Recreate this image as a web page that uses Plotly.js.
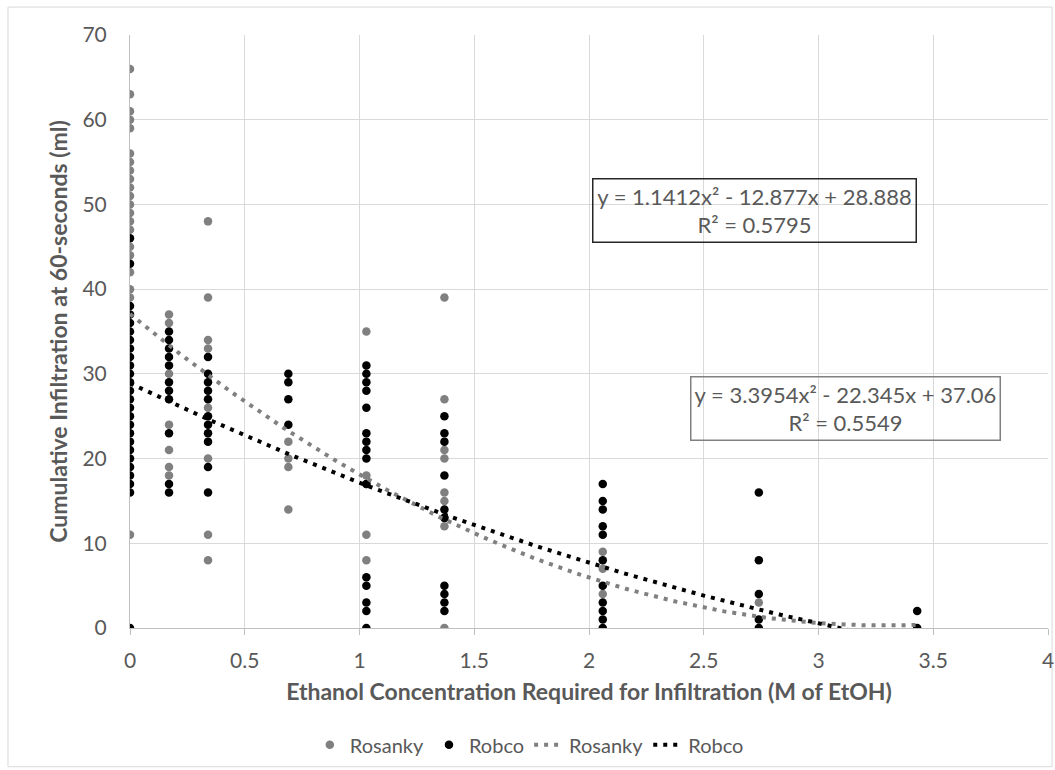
<!DOCTYPE html>
<html>
<head>
<meta charset="utf-8">
<script src="https://cdn.plot.ly/plotly-3.0.1.min.js"></script>
<style>html,body{margin:0;padding:0;background:#fff;}#chart{width:1055px;height:770px;}</style>
</head>
<body>
<div id="chart"></div>
<script>
// Ethanol concentration levels (M of EtOH)
const concentrations = [0, 0.17, 0.34, 0.69, 1.03, 1.37, 2.06, 2.74, 3.43];

// Cumulative infiltration at 60 s (ml), one list per concentration level
const rosankyValues = [
  [66, 63, 61, 60, 59, 56, 55, 54, 53, 52, 51, 50, 49, 48, 47, 45, 44, 42, 40, 39, 19, 11],
  [37, 36, 30, 24, 21, 19, 18],
  [48, 39, 34, 33, 26, 20, 11, 8],
  [22, 20, 19, 14],
  [35, 18, 17, 11, 8],
  [39, 27, 21, 20, 16, 15, 13, 12, 0],
  [9, 7, 4],
  [3],
  []
];
const robcoValues = [
  [46, 43, 38, 37, 36, 35, 34, 33, 32, 31, 30, 29, 28, 27, 26, 25, 24, 23, 22, 21, 20, 19, 18, 17, 16, 0],
  [35, 34, 33, 32, 31, 29, 28, 27, 23, 17, 16],
  [32, 30, 29, 28, 27, 25, 24, 23, 22, 19, 16],
  [30, 29, 27, 24],
  [31, 30, 29, 28, 26, 23, 22, 21, 20, 17, 6, 5, 3, 2, 0],
  [25, 23, 22, 18, 14, 13, 5, 4, 3, 2],
  [17, 15, 14, 12, 11, 8, 5, 3, 2, 1, 0],
  [16, 8, 4, 1, 0],
  [2, 0]
];

// Polynomial trendline coefficients shown on the chart [a, b, c] for a*x^2 + b*x + c
const rosankyTrend = [3.3954, -22.345, 37.06];
const robcoTrend = [1.1412, -12.877, 28.888];
const rosankyLabel = "y = 3.3954x² - 22.345x + 37.06<br>R² = 0.5549";
const robcoLabel = "y = 1.1412x² - 12.877x + 28.888<br>R² = 0.5795";

const xTickVals = [0, 0.5, 1, 1.5, 2, 2.5, 3, 3.5, 4];
const xTickText = ["0", "0.5", "1", "1.5", "2", "2.5", "3", "3.5", "4"];
const yTickVals = [0, 10, 20, 30, 40, 50, 60, 70];

function flatten(values) {
  const xs = [], ys = [];
  values.forEach((list, i) => list.forEach(v => { xs.push(concentrations[i]); ys.push(v); }));
  return {xs, ys};
}
function trendCurve(coef) {
  const xs = [], ys = [];
  const xmax = concentrations[concentrations.length - 1];
  for (let k = 0; k <= 200; k++) {
    const x = xmax * k / 200;
    xs.push(x);
    ys.push(coef[0] * x * x + coef[1] * x + coef[2]);
  }
  return {xs, ys};
}

const ros = flatten(rosankyValues);
const rob = flatten(robcoValues);
const rosT = trendCurve(rosankyTrend);
const robT = trendCurve(robcoTrend);

const GREY = '#808080';
const FONT = 'Lato, "Open Sans", sans-serif';
const TXT = '#595959';

const traces = [
  {x: ros.xs, y: ros.ys, mode: 'markers', type: 'scatter', name: 'Rosanky',
   marker: {color: GREY, size: 8.5}},
  {x: rob.xs, y: rob.ys, mode: 'markers', type: 'scatter', name: 'Robco',
   marker: {color: '#000000', size: 8.5}},
  {x: rosT.xs, y: rosT.ys, mode: 'lines', type: 'scatter', name: 'Rosanky',
   line: {color: GREY, width: 4, dash: '4px,6px'}},
  {x: robT.xs, y: robT.ys, mode: 'lines', type: 'scatter', name: 'Robco',
   line: {color: '#000000', width: 4, dash: '4px,6px'}}
];

const layout = {
  width: 1055, height: 770,
  margin: {l: 130, r: 7, t: 35, b: 141, pad: 0},
  paper_bgcolor: '#ffffff', plot_bgcolor: '#ffffff',
  font: {family: FONT, color: TXT, size: 20},
  showlegend: true,
  legend: {orientation: 'h', x: 0.435, xanchor: 'center', y: -0.195, yanchor: 'middle',
           font: {family: FONT, size: 20, color: TXT}, itemwidth: 30, traceorder: 'normal'},
  xaxis: {
    range: [0, 4], tickvals: xTickVals, ticktext: xTickText,
    showgrid: true, gridcolor: '#d9d9d9', gridwidth: 1,
    zeroline: false, showline: true, linecolor: '#bfbfbf', linewidth: 1,
    ticks: 'outside', ticklen: 6, tickcolor: '#bfbfbf', ticklabelstandoff: 8,
    tickfont: {family: FONT, size: 21, color: TXT},
    title: {text: 'Ethanol Concentration Required for Infiltration (M of EtOH)',
            font: {family: FONT, size: 23, color: TXT, weight: 'bold'}, standoff: 12}
  },
  yaxis: {
    range: [0, 70], tickvals: yTickVals,
    showgrid: true, gridcolor: '#d9d9d9', gridwidth: 1,
    zeroline: false, showline: true, linecolor: '#bfbfbf', linewidth: 1,
    ticks: '', ticklabelstandoff: 18, tickfont: {family: FONT, size: 21, color: TXT},
    title: {text: 'Cumulative Infiltration at 60-seconds (ml)',
            font: {family: FONT, size: 23, color: TXT, weight: 'bold'}, standoff: 8}
  },
  annotations: [
    {x: 2.719, y: 49.3, xref: 'x', yref: 'y', text: robcoLabel, showarrow: false,
     font: {family: FONT, size: 22, color: TXT}, bordercolor: '#262626', borderwidth: 1.5,
     borderpad: 1, bgcolor: 'rgba(255,255,255,0)', width: 320, height: 60, align: 'center'},
    {x: 3.118, y: 25.9, xref: 'x', yref: 'y', text: rosankyLabel, showarrow: false,
     font: {family: FONT, size: 22, color: TXT}, bordercolor: GREY, borderwidth: 1.5,
     borderpad: 1, bgcolor: 'rgba(255,255,255,0)', width: 306, height: 60, align: 'center'}
  ],
  shapes: [
    {type: 'rect', xref: 'paper', yref: 'paper', x0: -0.1329, x1: 1.0044, y0: -0.234, y1: 1.0471,
     line: {color: '#d9d9d9', width: 1}, fillcolor: 'rgba(0,0,0,0)', layer: 'below'}
  ]
};

Plotly.newPlot('chart', traces, layout, {displayModeBar: false, staticPlot: true});
</script>
</body>
</html>
